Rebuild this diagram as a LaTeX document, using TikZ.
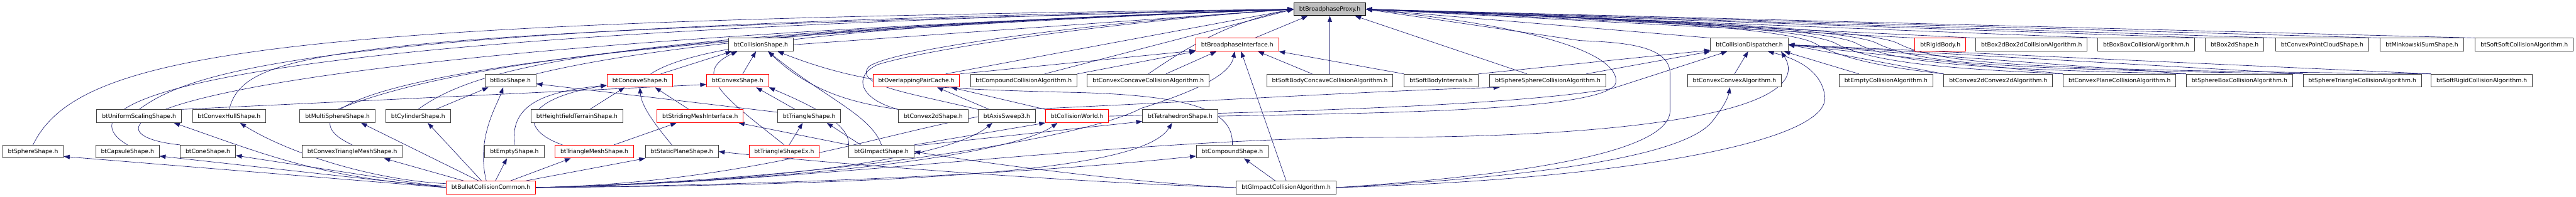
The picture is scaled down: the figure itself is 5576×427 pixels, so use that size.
\documentclass[tikz,border=0pt]{standalone}
\usepackage{fontspec}
\newfontfamily\dotfont{DejaVu Sans}
\usetikzlibrary{arrows.meta,backgrounds}
\definecolor{edgeblue}{HTML}{191970}
\definecolor{boxgray}{HTML}{404040}
\definecolor{rootfill}{HTML}{BFBFBF}

\begin{document}
\begin{tikzpicture}[x=1pt, y=1pt,
  file/.style={rectangle, draw=boxgray, line width=1.3pt, fill=white, minimum height=28pt, inner xsep=11.5pt, inner ysep=0pt,
    text height=10pt, text depth=2pt, font=\dotfont\fontsize{12.6pt}{14pt}\selectfont},
  redfile/.style={file, draw=red},
  rootfile/.style={file, draw=black, fill=rootfill},
  arr/.style={-{Triangle[length=13pt,width=9.5pt]}, line width=0.9pt, edgeblue}
]
  \useasboundingbox (0,0) rectangle (5576,-427);

  \node[rootfile] (proxy) at (2878.5,-20) {btBroadphaseProxy.h};

  % row 1
  \node[file] (colshape) at (1647,-97) {btCollisionShape.h};
  \node[redfile] (bpiface) at (2678,-97) {btBroadphaseInterface.h};
  \node[file] (dispatch) at (3786.5,-97) {btCollisionDispatcher.h};
  \node[redfile] (rigid) at (4200,-97) {btRigidBody.h};
  \node[file] (boxbox2d) at (4397.5,-97) {btBox2dBox2dCollisionAlgorithm.h};
  \node[file] (boxbox) at (4645.5,-97) {btBoxBoxCollisionAlgorithm.h};
  \node[file] (box2d) at (4837,-97) {btBox2dShape.h};
  \node[file] (ptcloud) at (5026.5,-97) {btConvexPointCloudShape.h};
  \node[file] (minkowski) at (5242.5,-97) {btMinkowskiSumShape.h};
  \node[file] (softsoft) at (5464,-97) {btSoftSoftCollisionAlgorithm.h};

  % row 2
  \node[file] (boxshape) at (1105,-175) {btBoxShape.h};
  \node[redfile] (concave) at (1385,-175) {btConcaveShape.h};
  \node[redfile] (convex) at (1596.5,-175) {btConvexShape.h};
  \node[redfile] (paircache) at (1983.5,-175) {btOverlappingPairCache.h};
  \node[file] (compalgo) at (2216,-175) {btCompoundCollisionAlgorithm.h};
  \node[file] (cvxconcalgo) at (2485.5,-175) {btConvexConcaveCollisionAlgorithm.h};
  \node[file] (softconc) at (2878.5,-175) {btSoftBodyConcaveCollisionAlgorithm.h};
  \node[file] (softint) at (3119.5,-175) {btSoftBodyInternals.h};
  \node[file] (sphsph) at (3350.5,-175) {btSphereSphereCollisionAlgorithm.h};
  \node[file] (cvxcvx) at (3754.5,-175) {btConvexConvexAlgorithm.h};
  \node[file] (emptyalgo) at (4082.5,-175) {btEmptyCollisionAlgorithm.h};
  \node[file] (cvx2dalgo) at (4325.5,-175) {btConvex2dConvex2dAlgorithm.h};
  \node[file] (planealgo) at (4588,-175) {btConvexPlaneCollisionAlgorithm.h};
  \node[file] (sphbox) at (4847.5,-175) {btSphereBoxCollisionAlgorithm.h};
  \node[file] (sphtri) at (5113.5,-175) {btSphereTriangleCollisionAlgorithm.h};
  \node[file] (softrigid) at (5372,-175) {btSoftRigidCollisionAlgorithm.h};

  % row 3
  \node[file] (uniform) at (301,-252) {btUniformScalingShape.h};
  \node[file] (hull) at (496,-252) {btConvexHullShape.h};
  \node[file] (multisph) at (730.5,-252) {btMultiSphereShape.h};
  \node[file] (cylinder) at (905,-252) {btCylinderShape.h};
  \node[file] (heightfield) at (1249,-252) {btHeightfieldTerrainShape.h};
  \node[redfile] (striding) at (1515.5,-252) {btStridingMeshInterface.h};
  \node[file] (triangle) at (1751.5,-252) {btTriangleShape.h};
  \node[file] (convex2d) at (2020,-252) {btConvex2dShape.h};
  \node[file] (axis) at (2179.5,-252) {btAxisSweep3.h};
  \node[redfile] (world) at (2331.5,-252) {btCollisionWorld.h};
  \node[file] (tetra) at (2554.5,-252) {btTetrahedronShape.h};

  % row 4
  \node[file] (sphere) at (71.5,-329) {btSphereShape.h};
  \node[file] (capsule) at (276,-329) {btCapsuleShape.h};
  \node[file] (cone) at (450,-329) {btConeShape.h};
  \node[file] (cvxmesh) at (762.5,-329) {btConvexTriangleMeshShape.h};
  \node[file] (empty) at (1113.5,-329) {btEmptyShape.h};
  \node[redfile] (trimesh) at (1286.5,-329) {btTriangleMeshShape.h};
  \node[file] (plane) at (1476,-329) {btStaticPlaneShape.h};
  \node[redfile] (triex) at (1697.5,-329) {btTriangleShapeEx.h};
  \node[file] (gimpact) at (1908,-329) {btGImpactShape.h};
  \node[file] (compound) at (2667.5,-329) {btCompoundShape.h};

  % row 5
  \node[redfile] (common) at (1062.5,-407) {btBulletCollisionCommon.h};
  \node[file] (gimpalgo) at (2784,-407) {btGImpactCollisionAlgorithm.h};

  \begin{scope}[on background layer]
  % into the proxy, from the left
  \draw[arr] (sphere.north) .. controls (170,-110) and (600,-45) .. (proxy.west);
  \draw[arr] (capsule.north) .. controls (150,-240) and (250,-75) .. (proxy.west);
  \draw[arr] (cone.north west) .. controls (150,-290) and (220,-110) .. (proxy.west);
  \draw[arr] (uniform.north) .. controls (420,-150) and (700,-55) .. (proxy.west);
  \draw[arr] (hull.north) .. controls (530,-110) and (700,-70) .. (proxy.west);
  \draw[arr] (multisph.north) .. controls (950,-150) and (1400,-70) .. (proxy.west);
  \draw[arr] (cylinder.north) .. controls (1050,-130) and (1400,-70) .. (proxy.west);
  \draw[arr] (cvxmesh.north) .. controls (600,-240) and (750,-100) .. (proxy.west);
  \draw[arr] (boxshape.north east) .. controls (1450,-90) and (2000,-45) .. (proxy.west);
  \draw[arr] (concave.32) .. controls (1500,-100) and (1800,-55) .. (proxy.west);
  \draw[arr] (colshape.east) -- (proxy.west);
  \draw[arr] (paircache.13) -- (proxy.west);
  \draw[arr] (compalgo.18) -- (proxy.west);
  \draw[arr] (cvxconcalgo.north) .. controls (2560,-110) and (2650,-50) .. (proxy.west);
  \draw[arr] (convex2d.north west) .. controls (1860,-215) and (1845,-165) .. (1900,-140) .. controls (2050,-95) and (2500,-40) .. (proxy.west);
  \draw[arr] (axis.north west) .. controls (1960,-200) and (1850,-185) .. (1880,-145) .. controls (1930,-105) and (2400,-45) .. (proxy.west);

  % into the proxy, from below
  \draw[arr] (bpiface.21) -- (proxy.-163);
  \draw[arr] (softconc.north) -- (proxy.south);
  \draw[arr] (sphsph.162) -- (proxy.-15);
  \draw[arr] (tetra.east) .. controls (3000,-245) and (3490,-240) .. (3498,-178) .. controls (3502,-120) and (3350,-60) .. (proxy.east);
  \draw[arr] (gimpalgo.east) .. controls (3300,-380) and (3615,-330) .. (3615,-240) -- (3615,-160) .. controls (3615,-95) and (3500,-92) .. (3420,-88) -- (proxy.east);

  % into the proxy, from the right
  \draw[arr] (dispatch.north west) -- (proxy.east);
  \draw[arr] (rigid.north west) -- (proxy.east);
  \draw[arr] (boxbox2d.north west) -- (proxy.east);
  \draw[arr] (boxbox.north west) -- (proxy.east);
  \draw[arr] (box2d.north west) -- (proxy.east);
  \draw[arr] (ptcloud.north west) -- (proxy.east);
  \draw[arr] (minkowski.north west) -- (proxy.east);
  \draw[arr] (softsoft.north west) -- (proxy.east);
  \draw[arr] (cvx2dalgo.north west) .. controls (4120,-150) and (4000,-135) .. (3930,-95) .. controls (3870,-60) and (3500,-40) .. (proxy.east);
  \draw[arr] (planealgo.north west) .. controls (4250,-150) and (4060,-140) .. (3975,-95) .. controls (3915,-60) and (3500,-40) .. (proxy.east);
  \draw[arr] (sphbox.north west) .. controls (4300,-150) and (4110,-140) .. (4020,-95) .. controls (3960,-60) and (3500,-40) .. (proxy.east);
  \draw[arr] (sphtri.north west) .. controls (4350,-150) and (4160,-140) .. (4065,-95) .. controls (4005,-60) and (3500,-40) .. (proxy.east);
  \draw[arr] (softrigid.north west) .. controls (4400,-152) and (4200,-140) .. (4110,-95) .. controls (4050,-60) and (3500,-40) .. (proxy.east);

  % into the dispatcher
  \draw[arr] (cvx2dalgo.north west) -- (dispatch.east);
  \draw[arr] (planealgo.north west) -- (dispatch.east);
  \draw[arr] (sphbox.north west) -- (dispatch.east);
  \draw[arr] (sphtri.north west) -- (dispatch.east);
  \draw[arr] (softrigid.north west) -- (dispatch.east);
  \draw[arr] (emptyalgo.166) -- (dispatch.-11);
  \draw[arr] (cvxcvx.north) -- (dispatch.-100);
  \draw[arr] (softint.north east) -- (dispatch.-172);
  \draw[arr] (sphsph.10) -- (dispatch.south west);
  \draw[arr] (world.east) .. controls (2900,-240) and (3300,-225) .. (3490,-192) -- (dispatch.-163);
  \draw[arr] (gimpalgo.east) .. controls (3500,-390) and (3960,-310) .. (3950,-210) .. controls (3945,-160) and (3900,-130) .. (dispatch.-20);
  \draw[arr] (common.east) .. controls (1800,-395) and (2400,-300) .. (3000,-298) .. controls (3600,-296) and (3930,-230) .. (dispatch.-12);
  \draw[arr] (gimpalgo.east) .. controls (3400,-380) and (3650,-330) .. (3705,-265) .. controls (3725,-240) and (3740,-215) .. (cvxcvx.-124);

  % into the broadphase interface
  \draw[arr] (paircache.north east) -- (bpiface.-172);
  \draw[arr] (compalgo.north east) -- (bpiface.south west);
  \draw[arr] (cvxconcalgo.21) -- (bpiface.-162);
  \draw[arr] (softconc.159) -- (bpiface.-18);
  \draw[arr] (softint.north west) -- (bpiface.south east);
  \draw[arr] (gimpalgo.north) -- (bpiface.-60);
  \draw[arr] (common.east) .. controls (1800,-390) and (2350,-300) .. (2470,-235) .. controls (2630,-185) and (2665,-150) .. (bpiface.-110);

  % into the collision shape
  \draw[arr] (concave.18) -- (colshape.-167);
  \draw[arr] (convex.53) -- (colshape.-126);
  \draw[arr] (triex.north) .. controls (1580,-220) and (1490,-160) .. (colshape.-164);
  \draw[arr] (convex2d.north west) .. controls (1860,-225) and (1760,-205) .. (colshape.-43);
  \draw[arr] (gimpact.north) .. controls (1885,-250) and (1790,-215) .. (colshape.-43);
  \draw[arr] (compound.north) .. controls (2670,-245) and (2600,-205) .. (2300,-200) .. controls (2000,-192) and (1870,-185) .. (colshape.-22);

  % into the convex shape
  \draw[arr] (triangle.154) -- (convex.-20);
  \draw[arr] (gimpact.north west) .. controls (1840,-270) and (1760,-230) .. (convex.south east);
  \draw[arr] (uniform.north east) -- (convex.-173);

  % into the box shape
  \draw[arr] (triangle.173) -- (boxshape.-7);
  \draw[arr] (cylinder.21) -- (boxshape.-163);
  \draw[arr] (common.124) .. controls (1030,-300) and (1075,-230) .. (boxshape.-137);

  % into the concave shape
  \draw[arr] (striding.149) -- (concave.-24);
  \draw[arr] (heightfield.28) -- (concave.-156);
  \draw[arr] (trimesh.168) .. controls (1120,-280) and (1130,-215) .. (concave.-172);
  \draw[arr] (empty.north) .. controls (1105,-235) and (1160,-200) .. (concave.-172);
  \draw[arr] (plane.146) .. controls (1405,-255) and (1388,-225) .. (concave.south);

  % row 3 targets
  \draw[arr] (trimesh.19) -- (striding.-164);
  \draw[arr] (gimpact.north west) -- (striding.-10);
  \draw[arr] (triex.54) -- (triangle.-134);
  \draw[arr] (gimpact.162) -- (triangle.-21);
  \draw[arr] (axis.159) -- (paircache.-18);
  \draw[arr] (world.north west) -- (paircache.-11);
  \draw[arr] (gimpact.10) -- (tetra.-172);
  \draw[arr] (common.east) .. controls (2100,-400) and (2480,-360) .. (tetra.-140);
  \draw[arr] (gimpact.north east) -- (world.south west);
  \draw[arr] (common.east) .. controls (1800,-390) and (2200,-330) .. (world.-161);
  \draw[arr] (common.east) .. controls (1700,-395) and (2060,-340) .. (axis.-155);
  \draw[arr] (common.east) .. controls (1700,-395) and (2000,-250) .. (2250,-236) .. controls (2700,-215) and (3000,-196) .. (sphsph.-172);

  % row 4 targets
  \draw[arr] (gimpalgo.148) -- (compound.-30);
  \draw[arr] (common.east) .. controls (1800,-400) and (2300,-370) .. (compound.-173);
  \draw[arr] (gimpalgo.west) .. controls (2500,-400) and (2200,-365) .. (gimpact.east);
  \draw[arr] (gimpalgo.west) .. controls (2300,-395) and (1800,-355) .. (plane.east);
  \draw[arr] (common.11) -- (plane.south west);

  % from the common header to the left
  \draw[arr] (common.west) -- (sphere.-9);
  \draw[arr] (common.west) -- (capsule.-8);
  \draw[arr] (common.west) -- (cone.-8);
  \draw[arr] (common.178) .. controls (700,-390) and (560,-330) .. (uniform.-11);
  \draw[arr] (common.175) .. controls (800,-390) and (620,-330) .. (hull.-32);
  \draw[arr] (common.151) -- (multisph.-16);
  \draw[arr] (common.144) -- (cylinder.-35);
  \draw[arr] (common.166) -- (cvxmesh.-12);
  \draw[arr] (common.56) -- (empty.-138);
  \draw[arr] (common.19) -- (trimesh.-164);
  \end{scope}
\end{tikzpicture}
\end{document}
